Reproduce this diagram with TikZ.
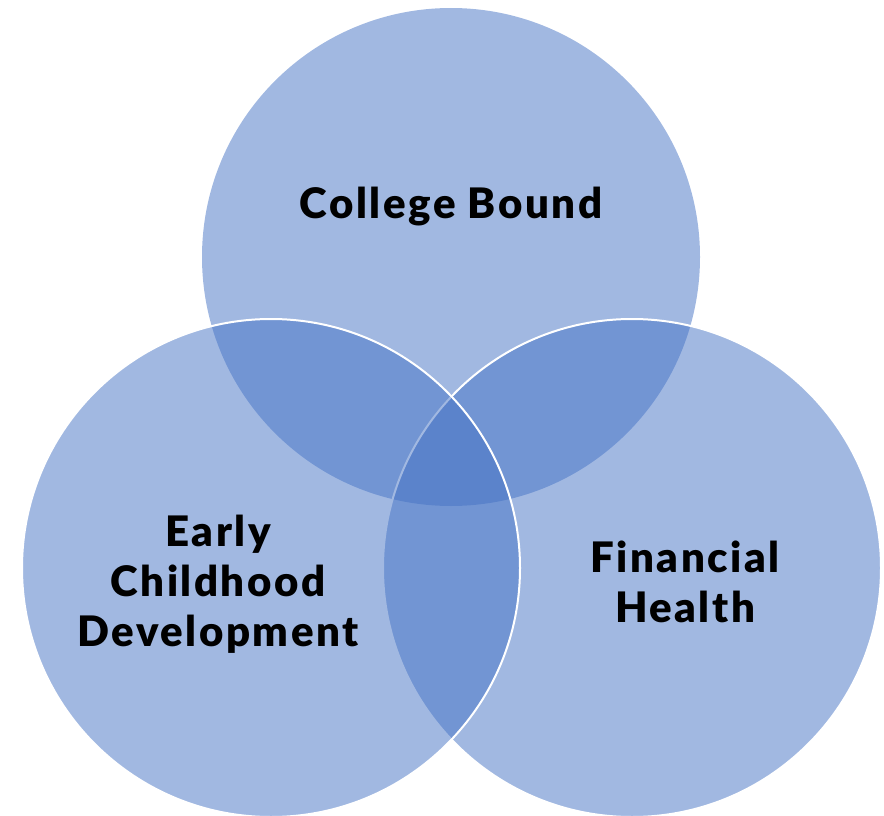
\documentclass[tikz,border=0pt]{standalone}
\usepackage{fontspec}
\setmainfont{Lato}[BoldFont={Lato Black}, LetterSpace=6]
\definecolor{vennblue}{HTML}{4472C4}
\tikzset{
  venn/.style={fill=vennblue, fill opacity=0.5},
  vennline/.style={draw=white, line width=2pt},
  lbl/.style={align=center, font=\bfseries\fontsize{42}{50}\selectfont, text=black, inner sep=0pt}
}
\begin{document}
\begin{tikzpicture}[x=1pt,y=-1pt]
\useasboundingbox (0,0) rectangle (884,816);
\coordinate (ct) at (451,257);
\coordinate (cr) at (632,568);
\coordinate (cl) at (271,568);
\fill[venn] (ct) circle (249);
\path[venn, vennline] (cr) circle (249);
\path[venn, vennline] (cl) circle (249);
\node[lbl] (cb) at (451,207) {College Bound};
\node[lbl] (ecd) at (218,584) {Early\\Childhood\\Development};
\node[lbl] (fh) at (685,582) {Financial\\Health};
\end{tikzpicture}
\end{document}
